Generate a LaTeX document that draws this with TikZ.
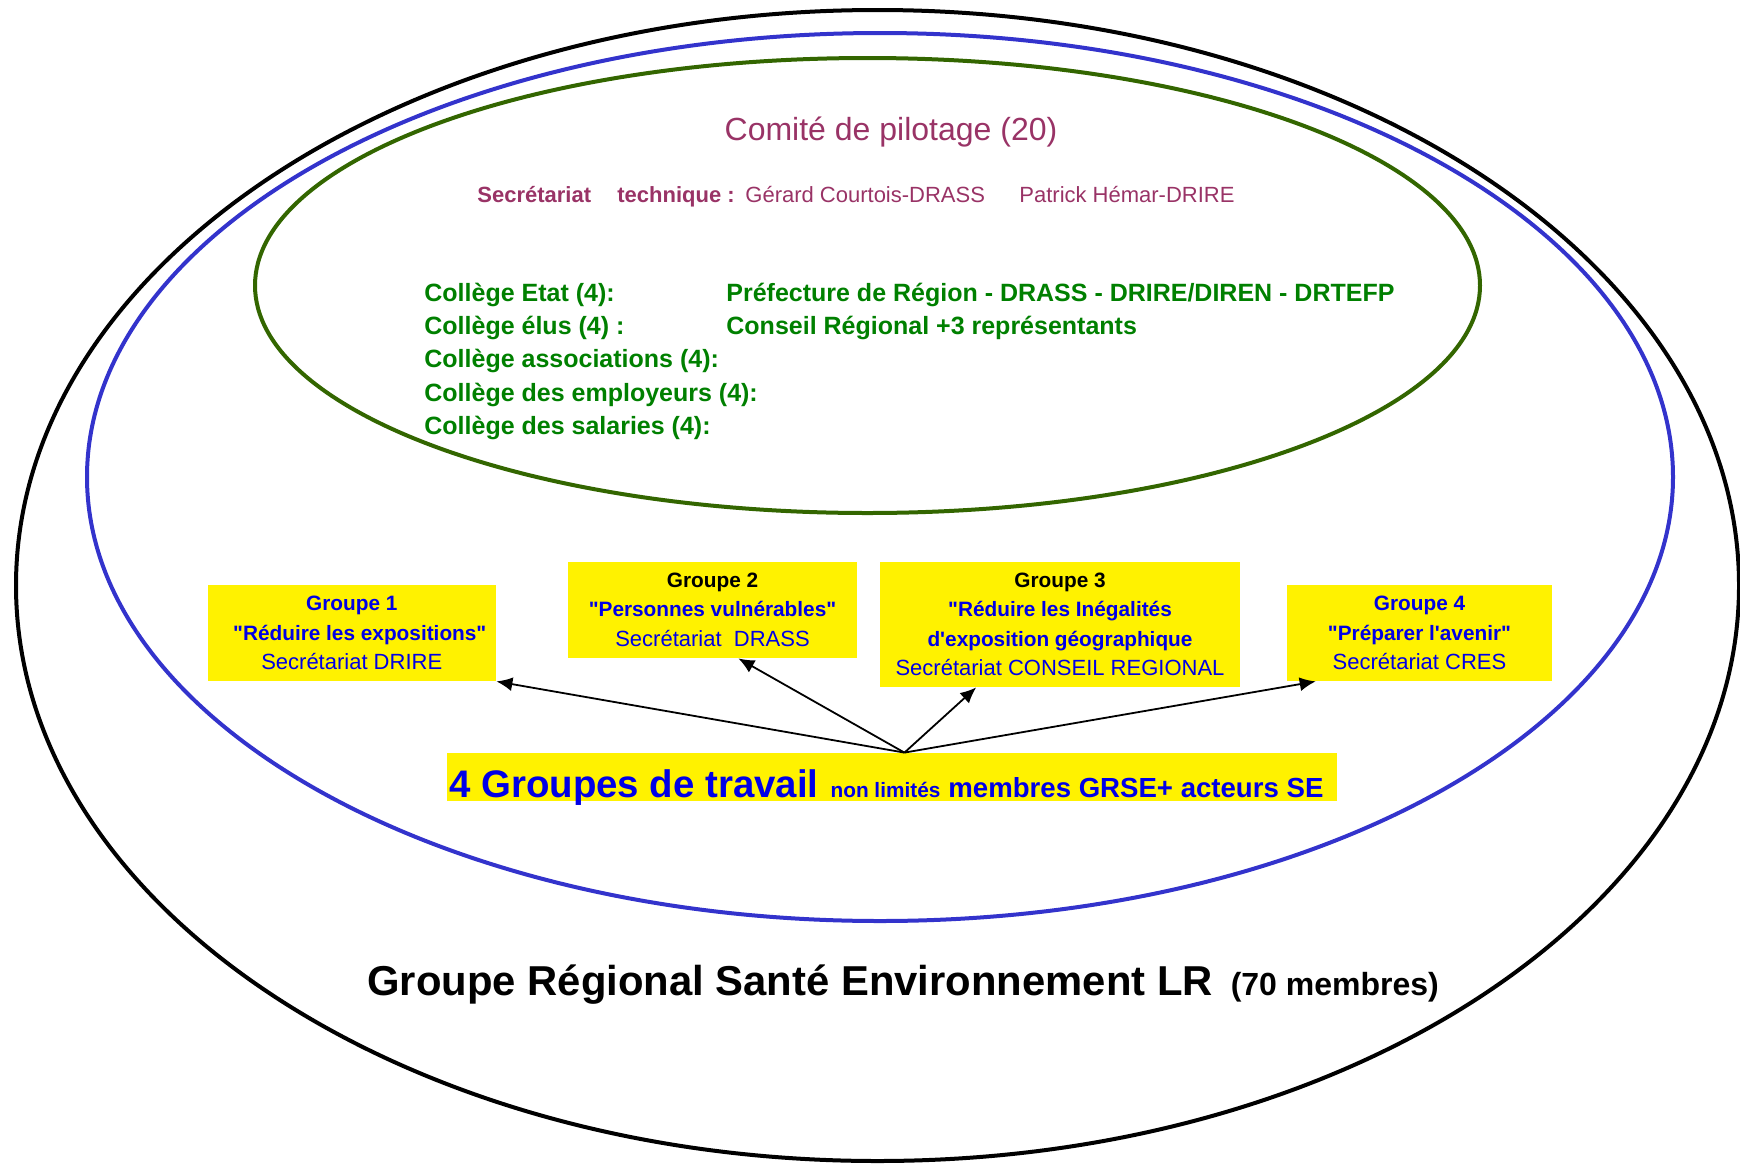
\documentclass[tikz,border=0pt]{standalone}
\usepackage{fontspec}
\setmainfont{Liberation Sans}[Ligatures=TeXOff]
\usetikzlibrary{arrows.meta}
\definecolor{pilot}{RGB}{153,51,102}
\definecolor{collgreen}{RGB}{0,128,0}
\definecolor{ringgreen}{RGB}{51,102,0}
\definecolor{ringblue}{RGB}{51,51,204}
\definecolor{gblue}{RGB}{0,0,230}
\tikzset{
  ring/.style={line width=2pt},
  pilottxt/.style={text=pilot, inner sep=0pt, anchor=base west, font=\fontsize{11}{13}\selectfont},
  colltxt/.style={text=collgreen, inner sep=0pt, anchor=base west, font=\bfseries\fontsize{12.5}{15}\selectfont},
  gbox/.style={fill=yellow, inner sep=0pt, align=center, text=gblue, font=\fontsize{10.4}{14.75}\selectfont},
  link/.style={-{Latex[length=8pt,width=7pt]}, line width=0.9pt},
}
\newcommand{\secline}[1]{{\fontsize{11}{14.75}\selectfont #1}}
\begin{document}
\begin{tikzpicture}[x=0.5pt,y=-0.5pt]
\useasboundingbox (0,0) rectangle (1740,1163);
% rings
\draw[ring, black] (877.5,585.5) ellipse [x radius=861.5, y radius=575.5];
\draw[ring, ringblue] (880,477) ellipse [x radius=793, y radius=444];
\draw[ring, ringgreen] (867.5,285.5) ellipse [x radius=612.5, y radius=227.5];

% comite
\node[text=pilot, inner sep=0pt, anchor=base, font=\fontsize{16}{19}\selectfont] (cp) at (891,140) {Comité de pilotage (20)};
\node[pilottxt, font=\bfseries\fontsize{11}{13}\selectfont] (s1) at (477,202) {Secrétariat};
\node[pilottxt, font=\bfseries\fontsize{11}{13}\selectfont] (s2) at (617,202) {technique :};
\node[pilottxt] (s3) at (745,202) {Gérard Courtois-DRASS};
\node[pilottxt] (s4) at (1019,202) {Patrick Hémar-DRIRE};

% colleges
\node[colltxt] (c1) at (424,301) {Collège Etat (4):};
\node[colltxt] (c1b) at (726,301) {Préfecture de Région - DRASS - DRIRE/DIREN - DRTEFP};
\node[colltxt] (c2) at (424,334.3) {Collège élus (4) :};
\node[colltxt] (c2b) at (726,334.3) {Conseil Régional +3 représentants};
\node[colltxt] (c3) at (424,367.6) {Collège associations (4):};
\node[colltxt] (c4) at (424,401) {Collège des employeurs (4):};
\node[colltxt] (c5) at (424,434.3) {Collège des salaries (4):};

% groups
\node[gbox, minimum width=144.25pt, minimum height=48pt] (g1) at (351.75,633)
  {\bfseries Groupe 1\\\bfseries \hspace*{8pt}"Réduire les expositions"\\\secline{Secrétariat DRIRE}};
\node[gbox, minimum width=144.5pt, minimum height=48.25pt] (g2) at (712.5,609.75)
  {\bfseries\color{black}Groupe 2\\\bfseries "Personnes vulnérables"\\\secline{Secrétariat~ DRASS}};
\node[gbox, minimum width=180pt, minimum height=62.75pt] (g3) at (1060,624.25)
  {\bfseries\color{black}Groupe 3\\\bfseries "Réduire les Inégalités\\\bfseries d'exposition géographique\\\secline{Secrétariat CONSEIL REGIONAL}};
\node[gbox, minimum width=132.5pt, minimum height=48pt] (g4) at (1419.5,633)
  {\bfseries Groupe 4\\\bfseries "Préparer l'avenir"\\\secline{Secrétariat CRES}};

% working groups box
\node[fill=yellow, inner sep=0pt, minimum width=445pt, minimum height=24pt] (wb) at (892,777) {};
\node[inner sep=0pt, anchor=base west, text=gblue, font=\bfseries] (wt) at (449,797)
  {{\fontsize{19.2}{22}\selectfont 4 Groupes de travail}\hspace{6pt}{\fontsize{10.4}{12}\selectfont non limités}\hspace{4pt}{\fontsize{13.8}{16}\selectfont membres GRSE+ acteurs SE}};

% arrows
\coordinate (o) at (wb.63.4);
\draw[link] (o) -- (g1.south east);
\draw[link] (o) -- (g2.-62.1);
\draw[link] (o) -- (g3.-143.9);
\draw[link] (o) -- (g4.-155.7);

% GRSE
\node[inner sep=0pt, anchor=base west, font=\bfseries] (gr) at (367,995)
  {{\fontsize{20.9}{24}\selectfont Groupe Régional Santé Environnement LR}\hspace{9pt}{\fontsize{16}{19}\selectfont (70 membres)}};
\end{tikzpicture}
\end{document}
